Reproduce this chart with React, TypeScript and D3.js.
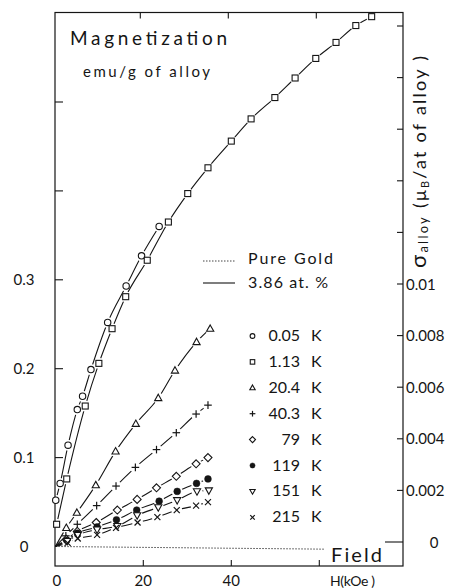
import React from 'react';
import * as d3 from 'd3';

const FONT = "Lato, 'DejaVu Sans', sans-serif";
const INK = '#151515';

// ---- data (field in kOe, magnetization in emu/g of alloy) ----
const H_005 = [0.1, 1.1, 2.9, 5.0, 6.2, 8.1, 11.9, 16.1, 19.6, 23.6];
const M_005 = [0.052, 0.071, 0.114, 0.154, 0.169, 0.199, 0.252, 0.293, 0.327, 0.36];

const H_113 = [0.3, 2.6, 6.8, 9.9, 12.9, 16.0, 20.9, 25.7, 30.1, 34.7, 40.0, 44.5, 49.9, 54.5, 59.2, 63.8, 68.3, 71.9];
const M_113 = [0.025, 0.076, 0.158, 0.206, 0.245, 0.281, 0.322, 0.365, 0.397, 0.426, 0.456, 0.481, 0.505, 0.527, 0.549, 0.567, 0.586, 0.596];

const H_204 = [2.5, 4.9, 9.2, 13.7, 18.3, 23.4, 27.2, 32.1, 35.2];
const M_204 = [0.021, 0.038, 0.069, 0.107, 0.138, 0.167, 0.198, 0.23, 0.245];

const H_403 = [2.4, 5.0, 9.4, 13.8, 18.2, 23.0, 27.5, 32.0, 34.7];
const M_403 = [0.012, 0.025, 0.046, 0.068, 0.089, 0.109, 0.128, 0.149, 0.159];

const H_79 = [2.5, 5.0, 9.3, 14.1, 18.6, 23.0, 27.5, 32.0, 34.7];
const M_79 = [0.008, 0.017, 0.027, 0.041, 0.053, 0.066, 0.079, 0.093, 0.1];

const H_119 = [2.6, 5.0, 9.5, 13.9, 18.5, 23.6, 27.7, 32.1, 34.7];
const M_119 = [0.007, 0.015, 0.022, 0.03, 0.041, 0.051, 0.062, 0.071, 0.076];

const H_151 = [2.7, 5.1, 9.5, 14.1, 18.6, 23.4, 27.7, 32.2, 34.9];
const M_151 = [0.006, 0.013, 0.019, 0.023, 0.035, 0.044, 0.052, 0.062, 0.063];

const H_215 = [2.8, 5.1, 9.5, 13.8, 18.7, 23.2, 27.6, 32.0, 34.7];
const M_215 = [0.004, 0.009, 0.013, 0.021, 0.027, 0.033, 0.041, 0.046, 0.05];

const H_GOLD = [0, 61.3];
const M_GOLD = [0, -0.003];

const TEMPS = ['0.05', '1.13', '20.4', '40.3', '79', '119', '151', '215'];
const KINDS = ['circle', 'square', 'triangle', 'plus', 'diamond', 'dot', 'tridown', 'cross'];
const FIELDS = [H_005, H_113, H_204, H_403, H_79, H_119, H_151, H_215];
const MAGS = [M_005, M_113, M_204, M_403, M_79, M_119, M_151, M_215];
const FROM_ORIGIN = [false, false, true, true, true, true, true, true];

const X_TICKS = [0, 20, 40, 60];
const X_LABELS = ['0', '20', '40'];
const YL_TICKS = [0.1, 0.2, 0.3, 0.4, 0.5];
const YL_LABELS = [0, 0.1, 0.2, 0.3];
const YR_TICKS = [0.002, 0.004, 0.006, 0.008, 0.01, 0.012, 0.014, 0.016, 0.018, 0.02];
const YR_LABELS = [0.002, 0.004, 0.006, 0.008, 0.01];

// ---- layout ----
const W = 456;
const H = 588;
const FR = { left: 55, right: 403, top: 12.5, bottom: 566 };

const x = d3.scaleLinear().domain([0, 79]).range([55.3, 402.9]);
const yL = d3.scaleLinear().domain([0, 0.6]).range([546.5, 13.1]);
const yR = d3.scaleLinear().domain([0, 0.02]).range([542, 26]);

function Marker({ kind, cx, cy, s = 1 }: { kind: string; cx: number; cy: number; s?: number }) {
  const sw = 1.1;
  const common = { stroke: INK, strokeWidth: sw, fill: 'white' } as any;
  switch (kind) {
    case 'circle':
      return <circle cx={cx} cy={cy} r={3.2 * s} {...common} />;
    case 'square':
      return <rect x={cx - 3 * s} y={cy - 3 * s} width={6 * s} height={6 * s} {...common} />;
    case 'triangle':
      return (
        <polygon
          points={`${cx},${cy - 3.8 * s} ${cx + 3.6 * s},${cy + 2.6 * s} ${cx - 3.6 * s},${cy + 2.6 * s}`}
          {...common}
        />
      );
    case 'tridown':
      return (
        <polygon
          points={`${cx},${cy + 3.8 * s} ${cx + 3.6 * s},${cy - 2.6 * s} ${cx - 3.6 * s},${cy - 2.6 * s}`}
          {...common}
        />
      );
    case 'diamond':
      return (
        <polygon
          points={`${cx},${cy - 4 * s} ${cx + 4 * s},${cy} ${cx},${cy + 4 * s} ${cx - 4 * s},${cy}`}
          {...common}
        />
      );
    case 'dot':
      return <circle cx={cx} cy={cy} r={3.4 * s} fill={INK} stroke={INK} strokeWidth={0.5} />;
    case 'plus':
      return (
        <g stroke={INK} strokeWidth={1.2}>
          <line x1={cx - 3.8 * s} x2={cx + 3.8 * s} y1={cy} y2={cy} />
          <line x1={cx} x2={cx} y1={cy - 3.8 * s} y2={cy + 3.8 * s} />
        </g>
      );
    case 'cross':
      return (
        <g stroke={INK} strokeWidth={1.2}>
          <line x1={cx - 3 * s} x2={cx + 3 * s} y1={cy - 3 * s} y2={cy + 3 * s} />
          <line x1={cx - 3 * s} x2={cx + 3 * s} y1={cy + 3 * s} y2={cy - 3 * s} />
        </g>
      );
    default:
      return null;
  }
}

export default function App() {
  const line = d3
    .line<[number, number]>()
    .x((d) => x(d[0]))
    .y((d) => yL(d[1]))
    .curve(d3.curveMonotoneX);

  const series = TEMPS.map((t, i) => {
    const pts: [number, number][] = FIELDS[i].map((h, j) => [h, MAGS[i][j]]);
    const linePts: [number, number][] = FROM_ORIGIN[i] ? [[0, 0], ...pts] : pts;
    return { t, kind: KINDS[i], pts, linePts };
  });

  const goldPts: [number, number][] = H_GOLD.map((h, j) => [h, M_GOLD[j]]);
  const GAP = 5.5;

  return (
    <svg
      width={W}
      height={H}
      style={{ position: 'absolute', left: 0, top: 0, background: 'white' }}
      fontFamily={FONT}
    >
      <rect x={0} y={0} width={W} height={H} fill="white" />
      <defs>
        {series.map((s, i) => (
          <mask id={`gap${i}`} key={i} maskUnits="userSpaceOnUse" x={0} y={0} width={W} height={H}>
            <rect x={0} y={0} width={W} height={H} fill="white" />
            {s.pts.map((p, j) => (
              <circle key={j} cx={x(p[0])} cy={yL(p[1])} r={GAP} fill="black" />
            ))}
          </mask>
        ))}
      </defs>

      {/* frame */}
      <rect
        x={FR.left}
        y={FR.top}
        width={FR.right - FR.left}
        height={FR.bottom - FR.top}
        fill="none"
        stroke={INK}
        strokeWidth={1.2}
      />

      {/* x ticks bottom & top */}
      {X_TICKS.filter((t) => t > 0).map((t) => (
        <g key={t} stroke={INK} strokeWidth={1.1}>
          <line x1={x(t)} x2={x(t)} y1={FR.bottom} y2={FR.bottom - 6} />
          <line x1={x(t) - 3} x2={x(t) - 3} y1={FR.top} y2={FR.top + 6} />
        </g>
      ))}
      {X_LABELS.map((l, i) => (
        <text key={l} x={x(X_TICKS[i]) + (i === 0 ? 1.5 : 0)} y={585.5} fontSize={15} textAnchor="middle" fill={INK}>
          {l}
        </text>
      ))}

      {/* left ticks */}
      {YL_TICKS.map((t) => (
        <line key={t} x1={FR.left} x2={FR.left + 8} y1={yL(t)} y2={yL(t)} stroke={INK} strokeWidth={1.1} />
      ))}
      {YL_LABELS.map((t) => (
        <text key={t} x={24} y={yL(t) + 5} fontSize={15} textAnchor="middle" fill={INK}>
          {t === 0 ? '0' : String(t)}
        </text>
      ))}

      {/* right ticks */}
      {YR_TICKS.map((t) => (
        <line key={t} x1={FR.right} x2={FR.right - 6} y1={yR(t)} y2={yR(t)} stroke={INK} strokeWidth={1.1} />
      ))}
      <line x1={FR.right} x2={FR.right - 18} y1={yR(0)} y2={yR(0)} stroke={INK} strokeWidth={1.1} />
      {YR_LABELS.map((t) => (
        <text key={t} x={406} y={yR(t) + 5.5} fontSize={15} fill={INK}>
          {t === 0.01 ? '0.01' : t.toFixed(3)}
        </text>
      ))}
      <text x={434} y={yR(0) + 6} fontSize={15} textAnchor="middle" fill={INK}>
        0
      </text>

      {/* right axis title */}
      <text
        transform="translate(426,268) rotate(-90)"
        fontSize={18}
        fill={INK}
        textLength={212}
        lengthAdjust="spacing"
      >
        <tspan fontSize={22}>σ</tspan>
        <tspan fontSize={13} dy={2}>
          alloy
        </tspan>
        <tspan dy={-2}> (μ</tspan>
        <tspan fontSize={11} dy={3}>
          B
        </tspan>
        <tspan dy={-3}>/at of alloy )</tspan>
      </text>

      {/* titles */}
      <text x={70} y={45} fontSize={19} textLength={157} lengthAdjust="spacing" fill={INK}>
        Magnetization
      </text>
      <text x={83} y={77} fontSize={15} textLength={127} lengthAdjust="spacing" fill={INK}>
        emu/g of alloy
      </text>

      {/* pure gold */}
      <path d={line(goldPts) || ''} fill="none" stroke="#444" strokeWidth={1} strokeDasharray="1.5,1.5" />

      {/* series lines */}
      {series.map((s, i) => (
        <path
          key={s.t}
          d={line(s.linePts) || ''}
          fill="none"
          stroke={INK}
          strokeWidth={1.1}
          mask={`url(#gap${i})`}
        />
      ))}
      {/* markers */}
      {series.map((s) =>
        s.pts.map((p, j) => <Marker key={s.t + j} kind={s.kind} cx={x(p[0])} cy={yL(p[1])} />)
      )}

      {/* legend: lines */}
      <line x1={203} x2={235} y1={261} y2={261} stroke="#444" strokeWidth={1} strokeDasharray="1.5,1.5" />
      <text x={248} y={263.5} fontSize={16} textLength={85} lengthAdjust="spacing" fill={INK}>
        Pure Gold
      </text>
      <line x1={203} x2={235} y1={283} y2={283} stroke={INK} strokeWidth={1.1} />
      <text x={248} y={287.5} fontSize={16} textLength={80} lengthAdjust="spacing" fill={INK}>
        3.86 at. %
      </text>

      {/* legend: temperatures */}
      {series.map((s, i) => {
        const by = 341 + 25.9 * i;
        return (
          <g key={s.t}>
            <Marker kind={s.kind} cx={252.5} cy={by - 5} s={0.75} />
            <text x={300} y={by} fontSize={16} textAnchor="end" fill={INK}>
              {s.t}
            </text>
            <text x={311} y={by} fontSize={16} fill={INK}>
              K
            </text>
          </g>
        );
      })}

      {/* field labels */}
      <text x={331} y={562} fontSize={20} textLength={51} lengthAdjust="spacing" fill={INK}>
        Field
      </text>
      <text x={330} y={585.5} fontSize={14} textLength={45} lengthAdjust="spacing" fill={INK}>
        H(kOe )
      </text>
    </svg>
  );
}
